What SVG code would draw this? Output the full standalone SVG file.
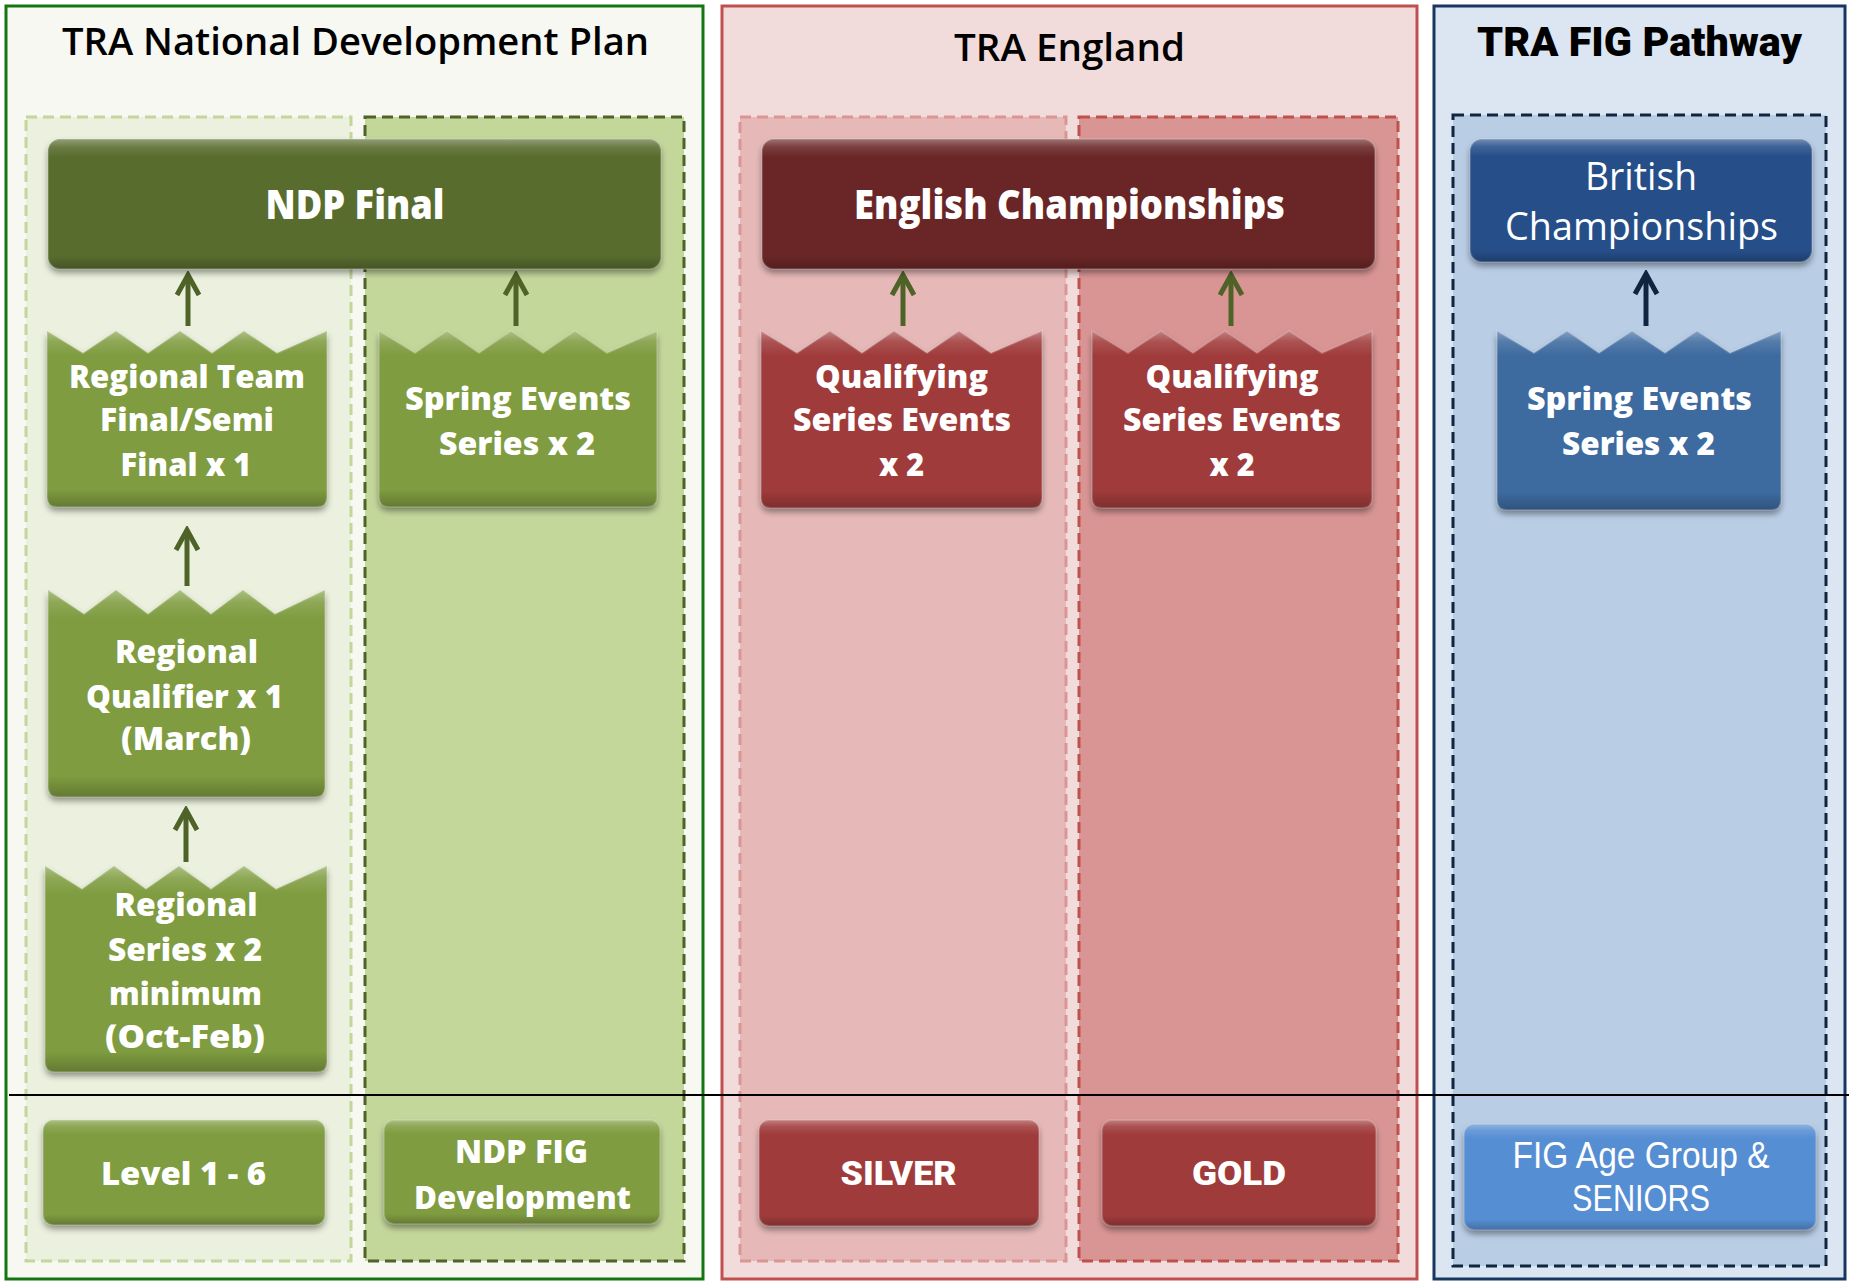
<svg xmlns="http://www.w3.org/2000/svg" xmlns:xlink="http://www.w3.org/1999/xlink" width="1849" height="1281" viewBox="0 0 1849 1281">
<style>
.ttl{font-family:"Open Sans","Noto Sans",sans-serif;font-weight:600;font-size:38px;fill:#000;text-anchor:middle}
.ttlh{font-family:Roboto,"DejaVu Sans",sans-serif;font-weight:900;font-size:40px;fill:#000;text-anchor:middle}
.nb{font-family:"Open Sans","Noto Sans",sans-serif;font-weight:800;font-size:32px;fill:#fff;text-anchor:middle}
.nl{font-family:"Open Sans","Noto Sans",sans-serif;font-weight:800;font-size:41px;fill:#fff;text-anchor:middle}
.nr{font-family:"Open Sans","Noto Sans",sans-serif;font-weight:400;font-size:38px;fill:#fff;text-anchor:middle}
.nc{font-family:"Liberation Sans",Arial,sans-serif;font-weight:400;font-size:36px;fill:#fff;text-anchor:middle}
.nh{font-family:Roboto,"DejaVu Sans",sans-serif;font-weight:900;font-size:33px;fill:#fff;text-anchor:middle}
.g{fill:#7f9c40}.gd{fill:#586c2e}.r{fill:#a03b3a}.rd{fill:#6a2827}.bd{fill:#25508a}.bm{fill:#3d6b9f}.bl{fill:#568ed3}
.bev{fill:url(#bev);stroke:#fff;stroke-opacity:0.18;stroke-width:2}
.conn{stroke-width:5;fill:none}
</style>
<defs>
<filter id="sh" x="-10%" y="-10%" width="120%" height="130%">
<feDropShadow dx="0" dy="4" stdDeviation="3" flood-color="#000" flood-opacity="0.4"/>
</filter>
<linearGradient id="bev" x1="0" y1="0" x2="0" y2="1">
<stop offset="0" stop-color="#fff" stop-opacity="0.35"/>
<stop offset="0.06" stop-color="#fff" stop-opacity="0.12"/>
<stop offset="0.14" stop-color="#fff" stop-opacity="0"/>
<stop offset="0.9" stop-color="#000" stop-opacity="0"/>
<stop offset="1" stop-color="#000" stop-opacity="0.22"/>
</linearGradient>
<marker id="ahg" markerUnits="userSpaceOnUse" viewBox="-26 -15 30 30" refX="0" refY="0" markerWidth="30" markerHeight="30" orient="auto">
<path d="M-20,-11 L0,0 L-20,11" fill="none" stroke="#4f6228" stroke-width="5" stroke-linejoin="miter"/>
</marker>
<marker id="ahb" markerUnits="userSpaceOnUse" viewBox="-26 -15 30 30" refX="0" refY="0" markerWidth="30" markerHeight="30" orient="auto">
<path d="M-20,-11 L0,0 L-20,11" fill="none" stroke="#10243f" stroke-width="5" stroke-linejoin="miter"/>
</marker>
<path id="s-rt" d="M47,331 L83,353 L116,331 L148,353 L180,331 L212,353 L244,331 L277,353 L327,331 L327,497 Q327,507 317,507 L57,507 Q47,507 47,497 Z"/>
<path id="s-seg" d="M379,331 L415,353 L447,331 L479,353 L511,331 L543,353 L575,331 L607,353 L657,331 L657,497 Q657,507 647,507 L389,507 Q379,507 379,497 Z"/>
<path id="s-rq" d="M48,590 L84,614 L116,590 L148,614 L180,590 L211,614 L243,590 L275,614 L325,590 L325,787 Q325,797 315,797 L58,797 Q48,797 48,787 Z"/>
<path id="s-rs" d="M45,866 L82,889 L114,866 L146,889 L179,866 L211,889 L244,866 L276,889 L327,866 L327,1062 Q327,1072 317,1072 L55,1072 Q45,1072 45,1062 Z"/>
<path id="s-q1" d="M761,331 L797,353 L830,331 L862,353 L894,331 L927,353 L959,331 L991,353 L1042,331 L1042,498 Q1042,508 1032,508 L771,508 Q761,508 761,498 Z"/>
<path id="s-q2" d="M1092,331 L1128,353 L1161,331 L1193,353 L1225,331 L1257,353 L1289,331 L1322,353 L1372,331 L1372,498 Q1372,508 1362,508 L1102,508 Q1092,508 1092,498 Z"/>
<path id="s-seb" d="M1497,331 L1534,353 L1567,331 L1599,353 L1632,331 L1665,353 L1697,331 L1730,353 L1781,331 L1781,500 Q1781,510 1771,510 L1507,510 Q1497,510 1497,500 Z"/>
<rect id="s-ndp" x="48" y="139" width="613" height="130" rx="12"/>
<rect id="s-eng" x="762" y="139" width="613" height="130" rx="12"/>
<rect id="s-bri" x="1470" y="139" width="342" height="123" rx="12"/>
<rect id="s-l16" x="43" y="1120" width="282" height="105" rx="10"/>
<rect id="s-nfd" x="384" y="1120" width="276" height="104" rx="10"/>
<rect id="s-sil" x="759" y="1120" width="280" height="106" rx="10"/>
<rect id="s-gol" x="1102" y="1120" width="274" height="106" rx="10"/>
<rect id="s-fig" x="1464" y="1124" width="352" height="106" rx="10"/>
</defs>

<g id="panels">
<rect x="6" y="6" width="697" height="1273" fill="#f6f8f1" stroke="#137613" stroke-width="3"/>
<rect x="722" y="6" width="695" height="1273" fill="#f2dcdb" stroke="#c0504d" stroke-width="3"/>
<rect x="1434" y="6" width="411" height="1273" fill="#dce6f2" stroke="#17375e" stroke-width="3"/>
<rect x="26" y="117" width="325" height="1144" fill="#ebf1de" stroke="#c3d69b" stroke-width="3" stroke-dasharray="11,6"/>
<rect x="365" y="117" width="319" height="1144" fill="#c4d79b" stroke="#4f6228" stroke-width="3" stroke-dasharray="11,6"/>
<rect x="740" y="117" width="326" height="1144" fill="#e6b9b8" stroke="#da9694" stroke-width="3" stroke-dasharray="11,6"/>
<rect x="1079" y="117" width="319" height="1144" fill="#d99594" stroke="#c0504d" stroke-width="3" stroke-dasharray="11,6"/>
<rect x="1453" y="115" width="373" height="1151" fill="#b9cde5" stroke="#10253f" stroke-width="3" stroke-dasharray="11,6"/>
<text class="ttl" x="355.5" y="55" textLength="587" lengthAdjust="spacingAndGlyphs">TRA National Development Plan</text>
<text class="ttl" x="1069.5" y="61" textLength="231" lengthAdjust="spacingAndGlyphs">TRA England</text>
<text class="ttlh" x="1639.5" y="56" textLength="325" lengthAdjust="spacingAndGlyphs">TRA FIG Pathway</text>
<line x1="9" y1="1095" x2="1849" y2="1095" stroke="#000" stroke-width="2"/>
</g>

<g id="connectors">
<line class="conn" x1="188" y1="326" x2="188" y2="275" stroke="#4f6228" marker-end="url(#ahg)"/>
<line class="conn" x1="516" y1="326" x2="516" y2="275" stroke="#4f6228" marker-end="url(#ahg)"/>
<line class="conn" x1="187" y1="586" x2="187" y2="530" stroke="#4f6228" marker-end="url(#ahg)"/>
<line class="conn" x1="186" y1="862" x2="186" y2="810" stroke="#4f6228" marker-end="url(#ahg)"/>
<line class="conn" x1="903" y1="326" x2="903" y2="275" stroke="#4f6228" marker-end="url(#ahg)"/>
<line class="conn" x1="1231" y1="326" x2="1231" y2="275" stroke="#4f6228" marker-end="url(#ahg)"/>
<line class="conn" x1="1646" y1="326" x2="1646" y2="274" stroke="#10243f" marker-end="url(#ahb)"/>
</g>

<g id="node-ndp-final">
<use xlink:href="#s-ndp" class="gd" filter="url(#sh)"/><use xlink:href="#s-ndp" class="bev"/>
<text class="nl" x="355" y="219" textLength="179" lengthAdjust="spacingAndGlyphs">NDP Final</text>
</g>
<g id="node-regional-team">
<use xlink:href="#s-rt" class="g" filter="url(#sh)"/><use xlink:href="#s-rt" class="bev"/>
<text class="nb" x="187" y="388" textLength="236" lengthAdjust="spacingAndGlyphs">Regional Team</text>
<text class="nb" x="187" y="431" textLength="174" lengthAdjust="spacingAndGlyphs">Final/Semi</text>
<text class="nb" x="186" y="476" textLength="131" lengthAdjust="spacingAndGlyphs">Final x 1</text>
</g>
<g id="node-spring-green">
<use xlink:href="#s-seg" class="g" filter="url(#sh)"/><use xlink:href="#s-seg" class="bev"/>
<text class="nb" x="518" y="410" textLength="226" lengthAdjust="spacingAndGlyphs">Spring Events</text>
<text class="nb" x="517" y="455" textLength="156" lengthAdjust="spacingAndGlyphs">Series x 2</text>
</g>
<g id="node-regional-qualifier">
<use xlink:href="#s-rq" class="g" filter="url(#sh)"/><use xlink:href="#s-rq" class="bev"/>
<text class="nb" x="186.5" y="663" textLength="143" lengthAdjust="spacingAndGlyphs">Regional</text>
<text class="nb" x="184.5" y="708" textLength="197" lengthAdjust="spacingAndGlyphs">Qualifier x 1</text>
<text class="nb" x="186" y="750" textLength="130" lengthAdjust="spacingAndGlyphs">(March)</text>
</g>
<g id="node-regional-series">
<use xlink:href="#s-rs" class="g" filter="url(#sh)"/><use xlink:href="#s-rs" class="bev"/>
<text class="nb" x="186" y="916" textLength="143" lengthAdjust="spacingAndGlyphs">Regional</text>
<text class="nb" x="185" y="961" textLength="154" lengthAdjust="spacingAndGlyphs">Series x 2</text>
<text class="nb" x="185.5" y="1005" textLength="153" lengthAdjust="spacingAndGlyphs">minimum</text>
<text class="nb" x="185" y="1048" textLength="160" lengthAdjust="spacingAndGlyphs">(Oct-Feb)</text>
</g>
<g id="node-level-1-6">
<use xlink:href="#s-l16" class="g" filter="url(#sh)"/><use xlink:href="#s-l16" class="bev"/>
<text class="nb" x="183.5" y="1185" textLength="165" lengthAdjust="spacingAndGlyphs">Level 1 - 6</text>
</g>
<g id="node-ndp-fig-development">
<use xlink:href="#s-nfd" class="g" filter="url(#sh)"/><use xlink:href="#s-nfd" class="bev"/>
<text class="nb" x="521.5" y="1163" textLength="133" lengthAdjust="spacingAndGlyphs">NDP FIG</text>
<text class="nb" x="522.5" y="1209" textLength="217" lengthAdjust="spacingAndGlyphs">Development</text>
</g>
<g id="node-english-championships">
<use xlink:href="#s-eng" class="rd" filter="url(#sh)"/><use xlink:href="#s-eng" class="bev"/>
<text class="nl" x="1069.5" y="219" textLength="431" lengthAdjust="spacingAndGlyphs">English Championships</text>
</g>
<g id="node-qualifying-silver">
<use xlink:href="#s-q1" class="r" filter="url(#sh)"/><use xlink:href="#s-q1" class="bev"/>
<text class="nb" x="901.5" y="388" textLength="173" lengthAdjust="spacingAndGlyphs">Qualifying</text>
<text class="nb" x="902" y="431" textLength="218" lengthAdjust="spacingAndGlyphs">Series Events</text>
<text class="nb" x="901.5" y="476" textLength="45" lengthAdjust="spacingAndGlyphs">x 2</text>
</g>
<g id="node-qualifying-gold">
<use xlink:href="#s-q2" class="r" filter="url(#sh)"/><use xlink:href="#s-q2" class="bev"/>
<text class="nb" x="1232" y="388" textLength="173" lengthAdjust="spacingAndGlyphs">Qualifying</text>
<text class="nb" x="1232" y="431" textLength="218" lengthAdjust="spacingAndGlyphs">Series Events</text>
<text class="nb" x="1232" y="476" textLength="45" lengthAdjust="spacingAndGlyphs">x 2</text>
</g>
<g id="node-silver">
<use xlink:href="#s-sil" class="r" filter="url(#sh)"/><use xlink:href="#s-sil" class="bev"/>
<text class="nh" x="898.5" y="1185" textLength="116" lengthAdjust="spacingAndGlyphs">SILVER</text>
</g>
<g id="node-gold">
<use xlink:href="#s-gol" class="r" filter="url(#sh)"/><use xlink:href="#s-gol" class="bev"/>
<text class="nh" x="1239" y="1185" textLength="94" lengthAdjust="spacingAndGlyphs">GOLD</text>
</g>
<g id="node-british-championships">
<use xlink:href="#s-bri" class="bd" filter="url(#sh)"/><use xlink:href="#s-bri" class="bev"/>
<text class="nr" x="1641" y="190" textLength="112" lengthAdjust="spacingAndGlyphs">British</text>
<text class="nr" x="1641.5" y="240" textLength="273" lengthAdjust="spacingAndGlyphs">Championships</text>
</g>
<g id="node-spring-blue">
<use xlink:href="#s-seb" class="bm" filter="url(#sh)"/><use xlink:href="#s-seb" class="bev"/>
<text class="nb" x="1639.5" y="410" textLength="225" lengthAdjust="spacingAndGlyphs">Spring Events</text>
<text class="nb" x="1638.5" y="455" textLength="153" lengthAdjust="spacingAndGlyphs">Series x 2</text>
</g>
<g id="node-fig-age-group">
<use xlink:href="#s-fig" class="bl" filter="url(#sh)"/><use xlink:href="#s-fig" class="bev"/>
<text class="nc" x="1641" y="1168" textLength="257" lengthAdjust="spacingAndGlyphs">FIG Age Group &amp;</text>
<text class="nc" x="1641" y="1211" textLength="138" lengthAdjust="spacingAndGlyphs">SENIORS</text>
</g>
</svg>
